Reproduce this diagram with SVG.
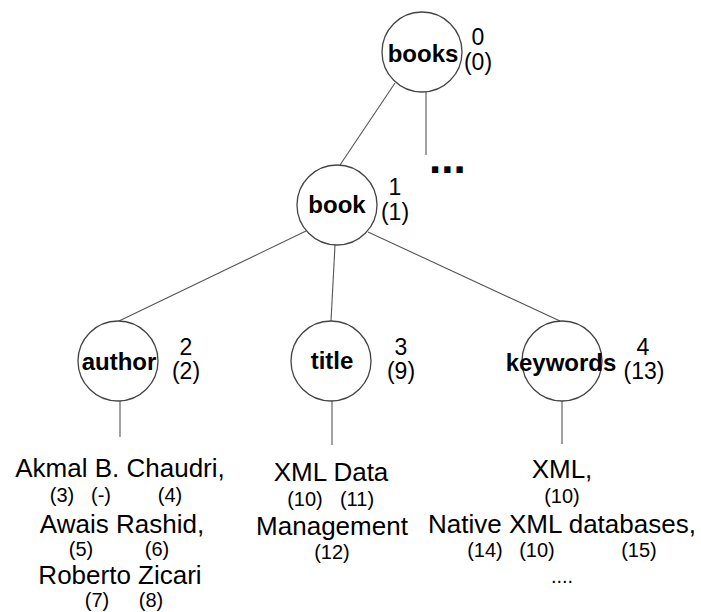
<svg xmlns="http://www.w3.org/2000/svg" width="701" height="612" viewBox="0 0 701 612">
<style>
.node circle{fill:#fff;stroke:#444;stroke-width:1.3}
.lbl{font-family:"Liberation Sans",Arial,sans-serif;font-weight:bold;font-size:24px;fill:#000;text-anchor:middle}
.num{font-family:"Liberation Sans",Arial,sans-serif;font-size:23px;fill:#000;text-anchor:middle}
.val{font-family:"Liberation Sans",Arial,sans-serif;font-size:26px;fill:#000;text-anchor:middle}
.idx{font-family:"Liberation Sans",Arial,sans-serif;font-size:20px;fill:#000;text-anchor:middle}
.conn line{stroke:#555;stroke-width:1.1}
</style>
<rect width="701" height="612" fill="#fff"/>
<g id="connectors" class="conn">
<line x1="395" y1="83" x2="340" y2="165"/>
<line x1="426" y1="92" x2="426" y2="155"/>
<line x1="306" y1="231" x2="119" y2="321"/>
<line x1="335" y1="245" x2="331" y2="321"/>
<line x1="368" y1="232" x2="560" y2="321"/>
<line x1="120" y1="401" x2="120" y2="437"/>
<line x1="332" y1="401" x2="332" y2="445"/>
<line x1="562" y1="401" x2="562" y2="444"/>
</g>
<g id="books" class="node">
<circle cx="422" cy="52" r="40"/>
<text class="lbl" x="423" y="62">books</text>
<text class="num" x="478" y="45">0</text>
<text class="num" x="478" y="70">(0)</text>
</g>
<text id="more" x="429" y="173" font-family="Liberation Sans, Arial, sans-serif" font-weight="bold" font-size="44">...</text>
<g id="book" class="node">
<circle cx="337" cy="205" r="40"/>
<text class="lbl" x="337" y="213">book</text>
<text class="num" x="395" y="195">1</text>
<text class="num" x="395" y="220">(1)</text>
</g>
<g id="author" class="node">
<circle cx="118" cy="361" r="40"/>
<text class="lbl" x="119" y="370">author</text>
<text class="num" x="186" y="355">2</text>
<text class="num" x="186" y="379">(2)</text>
</g>
<g id="title" class="node">
<circle cx="331" cy="361" r="40"/>
<text class="lbl" x="332" y="369">title</text>
<text class="num" x="401" y="355">3</text>
<text class="num" x="401" y="379">(9)</text>
</g>
<g id="keywords" class="node">
<circle cx="562" cy="361" r="40"/>
<text class="lbl" x="561" y="371">keywords</text>
<text class="num" x="643" y="355">4</text>
<text class="num" x="644" y="379">(13)</text>
</g>
<g id="author-values">
<text class="val" x="120" y="477">Akmal B. Chaudri,</text>
<text class="idx" x="62" y="502">(3)</text>
<text class="idx" x="101" y="502">(-)</text>
<text class="idx" x="170" y="502">(4)</text>
<text class="val" x="122" y="533">Awais Rashid,</text>
<text class="idx" x="81" y="556">(5)</text>
<text class="idx" x="157" y="556">(6)</text>
<text class="val" x="120" y="584">Roberto Zicari</text>
<text class="idx" x="97" y="607">(7)</text>
<text class="idx" x="151" y="607">(8)</text>
</g>
<g id="title-values">
<text class="val" x="331" y="481">XML Data</text>
<text class="idx" x="305" y="506">(10)</text>
<text class="idx" x="357" y="506">(11)</text>
<text class="val" x="332" y="535">Management</text>
<text class="idx" x="332" y="559">(12)</text>
</g>
<g id="keywords-values">
<text class="val" x="562" y="478">XML,</text>
<text class="idx" x="562" y="503">(10)</text>
<text class="val" x="562" y="533">Native XML databases,</text>
<text class="idx" x="485" y="557">(14)</text>
<text class="idx" x="537" y="557">(10)</text>
<text class="idx" x="639" y="557">(15)</text>
<text class="idx" x="562" y="583">....</text>
</g>
</svg>
